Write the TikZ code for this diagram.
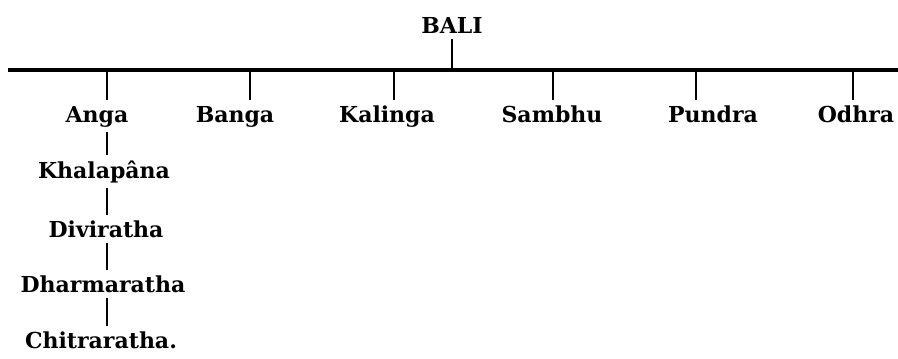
\documentclass[tikz,border=0pt]{standalone}
\usepackage{fontspec}
\setmainfont{DejaVu Serif}
\usepackage{tikz}
\usetikzlibrary{positioning,calc}

\begin{document}
\begin{tikzpicture}[
    x=0.75pt, y=-0.75pt,
    person/.style={anchor=base, inner xsep=2pt, inner ysep=4pt, font=\fontsize{16.5}{19}\bfseries\selectfont},
    bar/.style={line width=2.3pt},
    link/.style={line width=1.5pt}
]
\useasboundingbox (0,0) rectangle (898,358);
% the father
\node[person] (bali) at (452,33) {BALI};
\coordinate (barl) at (8,70);
\coordinate (barr) at (898,70);
\draw[bar] (barl) -- (barr);
\draw[link] (bali.south) -- (bali.south |- barl);

% his sons
\node[person] (anga) at (97,122) {Anga};
\node[person] (banga) at (235,122) {Banga};
\node[person] (kalinga) at (387,122) {Kalinga};
\node[person] (sambhu) at (552,122) {Sambhu};
\node[person] (pundra) at (713,122) {Pundra};
\node[person] (odhra) at (856,122) {Odhra};

\coordinate (t1) at (107,70);
\coordinate (t2) at (250,70);
\coordinate (t3) at (394,70);
\coordinate (t4) at (553,70);
\coordinate (t5) at (696,70);
\coordinate (t6) at (853,70);
\foreach \t/\n in {t1/anga,t2/banga,t3/kalinga,t4/sambhu,t5/pundra,t6/odhra}
    \draw[link] (\t) -- (\t |- \n.north);

% line of Anga
\node[person] (khalapana) at (104,178) {Khalapâna};
\node[person] (diviratha) at (106,237) {Diviratha};
\node[person] (dharmaratha) at (103,292) {Dharmaratha};
\node[person] (chitraratha) at (101,348) {Chitraratha.};
\foreach \a/\b in {anga/khalapana,khalapana/diviratha,diviratha/dharmaratha,dharmaratha/chitraratha}
    \draw[link] (t1 |- \a.south) -- (t1 |- \b.north);
\end{tikzpicture}
\end{document}
